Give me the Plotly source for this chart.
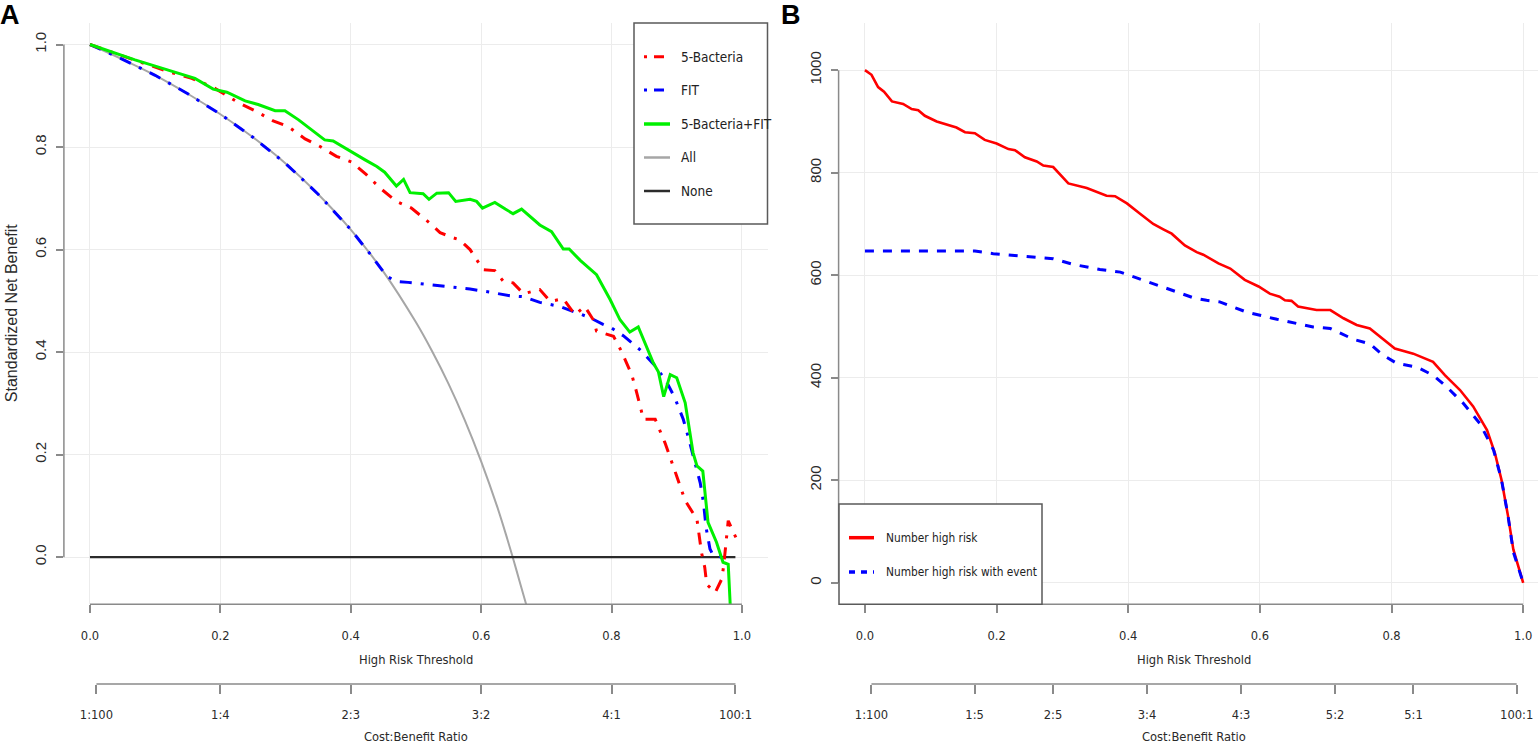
import plotly.graph_objects as go

# ---------------- Panel A data (decision curves) ----------------
bact_x = [0, .069, .120, .156, .187, .230, .253, .281, .304, .330, .353, .378, .401, .424, .445,
          .470, .493, .521, .537, .557, .567, .583, .603, .621, .634, .649, .665, .690, .706, .726,
          .744, .759, .772, .777, .798, .803, .815, .831, .838, .849, .867, .882, .900, .913, .931,
          .938, .943, .946, .959, .969, .972, .979, .987, .991]
bact_nb = [1.000, .970, .947, .934, .918, .885, .871, .851, .840, .816, .801, .782, .771, .746, .720,
           .694, .681, .652, .633, .623, .619, .600, .561, .559, .538, .535, .514, .522, .499, .504,
           .473, .489, .463, .441, .434, .431, .402, .356, .324, .269, .269, .223, .158, .110, .074,
           .009, -.020, -.053, -.069, -.043, -.017, .071, .048, .038]

fit_x = [0, .05, .10, .15, .20, .25, .30, .35, .40, .43, .455, .470, .488, .532, .583, .613, .644,
         .665, .690, .721, .746, .767, .787, .800, .818, .846, .867, .884, .897, .910, .918, .928,
         .936, .941, .945, .951, .956, .971]
fit_nb = [1.000, .971, .940, .904, .864, .819, .768, .708, .639, .591, .548, .538, .536, .530, .523,
          .517, .510, .508, .497, .489, .477, .467, .454, .447, .432, .402, .373, .343, .311, .269,
          .233, .184, .145, .107, .058, .016, .003, .000]

combo_x = [0, .069, .120, .141, .161, .189, .210, .238, .258, .284, .299, .320, .360, .373, .401,
           .422, .440, .452, .470, .481, .491, .511, .520, .532, .550, .561, .583, .593, .602, .621,
           .637, .649, .662, .690, .708, .726, .735, .752, .777, .798, .813, .828, .841, .864, .872,
           .880, .890, .900, .913, .925, .931, .940, .948, .961, .971, .979, .982]
combo_nb = [1.000, .970, .950, .942, .934, .913, .907, .890, .883, .871, .871, .853, .814, .812, .790,
            .775, .762, .751, .724, .737, .711, .709, .698, .710, .711, .694, .698, .694, .681, .692,
            .679, .670, .679, .648, .635, .601, .601, .579, .551, .502, .463, .439, .449, .379, .361,
            .313, .356, .350, .301, .204, .178, .168, .068, .029, -.010, -.014, -.092]

all_x = [0, .05, .10, .15, .20, .25, .30, .35, .40, .45, .50, .525, .55, .575, .60, .625, .64, .65,
         .66, .669]
all_nb = [1.000, .971, .940, .904, .864, .819, .768, .708, .639, .557, .458, .401, .338, .267, .187,
          .097, .036, -.007, -.052, -.092]

none_x = [0, .99]
none_nb = [0, 0]

nb_ticks = [0.0, 0.2, 0.4, 0.6, 0.8, 1.0]
thr_ticks = [0.0, 0.2, 0.4, 0.6, 0.8, 1.0]
cb_labels_A = ["1:100", "1:4", "2:3", "3:2", "4:1", "100:1"]
cb_pos_A = [1 / 101, 0.2, 0.4, 0.6, 0.8, 100 / 101]
legend_A = ["5-Bacteria", "FIT", "5-Bacteria+FIT", "All", "None"]

# ---------------- Panel B data (clinical impact) ----------------
hr_x = [0, .010, .020, .029, .041, .058, .071, .081, .091, .109, .139, .152, .167, .182, .200, .218,
        .228, .243, .261, .271, .286, .296, .309, .337, .367, .380, .398, .418, .438, .454, .466,
        .486, .504, .514, .522, .537, .555, .577, .598, .615, .630, .638, .648, .658, .686, .707,
        .727, .747, .767, .782, .805, .833, .863, .881, .904, .924, .945, .957, .967, .977, .985, 1.0]
hr_n = [1000, 991, 967, 958, 939, 934, 924, 922, 911, 900, 888, 879, 877, 864, 857, 846,
        844, 830, 822, 814, 811, 798, 779, 770, 755, 754, 740, 720, 700, 689, 681,
        658, 645, 640, 634, 623, 613, 591, 578, 564, 558, 551, 550, 539, 532, 532,
        516, 503, 496, 480, 457, 447, 431, 405, 376, 344, 298, 253, 201, 130, 65, 0]

ev_x = [0, .167, .195, .256, .286, .317, .357, .388, .413, .438, .468, .499, .519, .539, .580, .626,
        .681, .707, .742, .767, .787, .808, .838, .863, .884, .909, .934, .955, .967, .977, .985, 1.0]
ev_n = [647, 647, 642, 635, 632, 621, 611, 606, 595, 584, 571, 556, 551, 548, 528, 514,
        499, 496, 475, 466, 444, 428, 421, 405, 382, 350, 311, 259, 201, 130, 60, 0]

n_ticks = [0, 200, 400, 600, 800, 1000]
cb_labels_B = ["1:100", "1:5", "2:5", "3:4", "4:3", "5:2", "5:1", "100:1"]
cb_pos_B = [1 / 101, 1 / 6, 2 / 7, 3 / 7, 4 / 7, 5 / 7, 5 / 6, 100 / 101]
legend_B = ["Number high risk", "Number high risk with event"]

# ---------------- geometry / style ----------------
W, H = 1538, 743
NARROW = "DejaVu Sans Condensed, Liberation Sans Narrow, sans-serif"
REG = "Liberation Sans, Arial, sans-serif"
AXC = "#8a8a8a"
TXC = "#2a2a2a"
GRID = "#ececec"
FS = 12.8


def px(x):
    return x / W


def py(y):
    return (H - y) / H


ydom = [py(604.3), py(23)]
xdomA = [px(63.9), px(768)]
xdomB = [px(838.6), 1.0]
rA = [-0.04, 1.04]
rB = [-0.04, (W - 864.9) / 658.3]

fig = go.Figure()

dd = "12px,9px,3px,9px"
fig.add_trace(go.Scatter(x=all_x, y=all_nb, mode="lines", name=legend_A[3], line=dict(color="#a6a6a6", width=2, shape="spline"), xaxis="x", yaxis="y"))
fig.add_trace(go.Scatter(x=none_x, y=none_nb, mode="lines", name=legend_A[4], line=dict(color="#2b2b2b", width=2.2), xaxis="x", yaxis="y"))
fig.add_trace(go.Scatter(x=fit_x, y=fit_nb, mode="lines", name=legend_A[1], line=dict(color="#0000ff", width=3, dash=dd), xaxis="x", yaxis="y"))
fig.add_trace(go.Scatter(x=bact_x, y=bact_nb, mode="lines", name=legend_A[0], line=dict(color="#ff0000", width=3, dash=dd), xaxis="x", yaxis="y"))
fig.add_trace(go.Scatter(x=combo_x, y=combo_nb, mode="lines", name=legend_A[2], line=dict(color="#00f000", width=3), xaxis="x", yaxis="y"))

fig.add_trace(go.Scatter(x=hr_x, y=hr_n, mode="lines", name=legend_B[0], line=dict(color="#ff0000", width=2.6), xaxis="x2", yaxis="y2"))
fig.add_trace(go.Scatter(x=ev_x, y=ev_n, mode="lines", name=legend_B[1], line=dict(color="#0000ff", width=3, dash="9px,9px"), xaxis="x2", yaxis="y2"))

# carriers for the cost:benefit axes (no visible marks)
fig.add_trace(go.Scatter(x=cb_pos_A, y=[None] * len(cb_pos_A), mode="lines", xaxis="x3", yaxis="y", hoverinfo="skip"))
fig.add_trace(go.Scatter(x=cb_pos_B, y=[None] * len(cb_pos_B), mode="lines", xaxis="x4", yaxis="y2", hoverinfo="skip"))

tickfont_x = dict(family=NARROW, size=FS, color=TXC)
tickfont_y = dict(family=REG, size=15, color=TXC)

common_x = dict(showline=False, zeroline=False, ticks="outside", ticklen=8, tickwidth=1.5,
                tickcolor=AXC, tickfont=tickfont_x, showgrid=True, gridcolor=GRID, gridwidth=1,
                ticklabelstandoff=11, fixedrange=True)
common_y = dict(showline=False, zeroline=False, ticks="outside", ticklen=7, tickwidth=1.5,
                tickcolor=AXC, tickfont=tickfont_y, tickangle=-90, showgrid=True, gridcolor=GRID,
                gridwidth=1, ticklabelstandoff=4, fixedrange=True)
cb_x = dict(showline=False, zeroline=False, ticks="outside", ticklen=9, tickwidth=1.5,
            tickcolor=AXC, tickfont=tickfont_x, showgrid=False, anchor="free",
            position=py(684), side="bottom", ticklabelstandoff=10, fixedrange=True)

fig.update_layout(
    width=W, height=H, margin=dict(l=0, r=0, t=0, b=0),
    paper_bgcolor="white", plot_bgcolor="white", showlegend=False,
    xaxis=dict(domain=xdomA, range=rA, tickvals=thr_ticks, ticktext=[f"{v:.1f}" for v in thr_ticks], anchor="y", **common_x),
    yaxis=dict(domain=ydom, range=[-0.092, 1.042], tickvals=nb_ticks, ticktext=[f"{v:.1f}" for v in nb_ticks], anchor="x", **common_y),
    xaxis2=dict(domain=xdomB, range=rB, tickvals=thr_ticks, ticktext=[f"{v:.1f}" for v in thr_ticks], anchor="y2", **common_x),
    yaxis2=dict(domain=ydom, range=[-42, 1092], tickvals=n_ticks, ticktext=[str(v) for v in n_ticks], anchor="x2", **common_y),
    xaxis3=dict(domain=xdomA, range=rA, overlaying="x", tickvals=cb_pos_A, ticktext=cb_labels_A, **cb_x),
    xaxis4=dict(domain=xdomB, range=rB, overlaying="x2", tickvals=cb_pos_B, ticktext=cb_labels_B, **cb_x),
)

shapes = []
axl = dict(color=AXC, width=1.5)
# axis lines spanning tick ranges
shapes.append(dict(type="line", xref="x", yref="paper", x0=thr_ticks[0], x1=thr_ticks[-1], y0=ydom[0], y1=ydom[0], line=axl))
shapes.append(dict(type="line", xref="x", yref="paper", x0=cb_pos_A[0], x1=cb_pos_A[-1], y0=py(684), y1=py(684), line=axl))
shapes.append(dict(type="line", xref="paper", yref="y", x0=xdomA[0], x1=xdomA[0], y0=nb_ticks[0], y1=nb_ticks[-1], line=axl))
shapes.append(dict(type="line", xref="x2", yref="paper", x0=thr_ticks[0], x1=thr_ticks[-1], y0=ydom[0], y1=ydom[0], line=axl))
shapes.append(dict(type="line", xref="x2", yref="paper", x0=cb_pos_B[0], x1=cb_pos_B[-1], y0=py(684), y1=py(684), line=axl))
shapes.append(dict(type="line", xref="paper", yref="y2", x0=xdomB[0], x1=xdomB[0], y0=n_ticks[0], y1=n_ticks[-1], line=axl))

# legend boxes
shapes.append(dict(type="rect", xref="paper", yref="paper", x0=px(634), x1=px(767.5), y0=py(224), y1=py(23), line=dict(color="#5a5a5a", width=1.5), fillcolor="white", layer="above"))
shapes.append(dict(type="rect", xref="paper", yref="paper", x0=px(839), x1=px(1042), y0=py(604.3), y1=py(504), line=dict(color="#5a5a5a", width=1.5), fillcolor="white", layer="above"))

annotations = []
leg_styles_A = [dict(color="#ff0000", width=3, dash="3px,7px,10px,7px"),
                dict(color="#0000ff", width=3, dash="3px,7px,10px,7px"),
                dict(color="#00f000", width=3.5),
                dict(color="#a6a6a6", width=2.5),
                dict(color="#2b2b2b", width=2.5)]
leg_y_A = [56.7, 90, 124, 157.5, 191]
for name, st, yy in zip(legend_A, leg_styles_A, leg_y_A):
    shapes.append(dict(type="line", xref="paper", yref="paper", x0=px(644), x1=px(670), y0=py(yy), y1=py(yy), line=st, layer="above"))
    annotations.append(dict(text=name, xref="paper", yref="paper", x=px(679), y=py(yy), xanchor="left", yanchor="middle", showarrow=False, font=dict(family=NARROW, size=13.5, color="#222")))

leg_styles_B = [dict(color="#ff0000", width=3.5), dict(color="#0000ff", width=3.5, dash="6px,6px")]
leg_y_B = [537.7, 572]
for name, st, yy in zip(legend_B, leg_styles_B, leg_y_B):
    shapes.append(dict(type="line", xref="paper", yref="paper", x0=px(849), x1=px(874), y0=py(yy), y1=py(yy), line=st, layer="above"))
    annotations.append(dict(text=name, xref="paper", yref="paper", x=px(884), y=py(yy), xanchor="left", yanchor="middle", showarrow=False, font=dict(family=NARROW, size=11.8, color="#222")))

# axis titles
title_font = dict(family=NARROW, size=FS, color=TXC)
for xr in ["x", "x2"]:
    annotations.append(dict(text="High Risk Threshold", xref=xr, yref="paper", x=0.5, y=py(659), xanchor="center", yanchor="middle", showarrow=False, font=title_font))
    annotations.append(dict(text="Cost:Benefit Ratio", xref=xr, yref="paper", x=0.5, y=py(736), xanchor="center", yanchor="middle", showarrow=False, font=title_font))
annotations.append(dict(text="Standardized Net Benefit", xref="paper", yref="paper", x=px(11.5), y=(ydom[0] + ydom[1]) / 2, textangle=-90, xanchor="center", yanchor="middle", showarrow=False, font=dict(family=REG, size=16, color=TXC)))

# panel letters
annotations.append(dict(text="<b>A</b>", xref="paper", yref="paper", x=px(10), y=py(15), xanchor="center", yanchor="middle", showarrow=False, font=dict(family=REG, size=27, color="black")))
annotations.append(dict(text="<b>B</b>", xref="paper", yref="paper", x=px(791), y=py(15), xanchor="center", yanchor="middle", showarrow=False, font=dict(family=REG, size=27, color="black")))

fig.update_layout(shapes=shapes, annotations=annotations)

fig.write_html("out.html", config={"displayModeBar": False},
               post_script="document.body.style.margin='0';document.body.style.overflow='hidden';")
